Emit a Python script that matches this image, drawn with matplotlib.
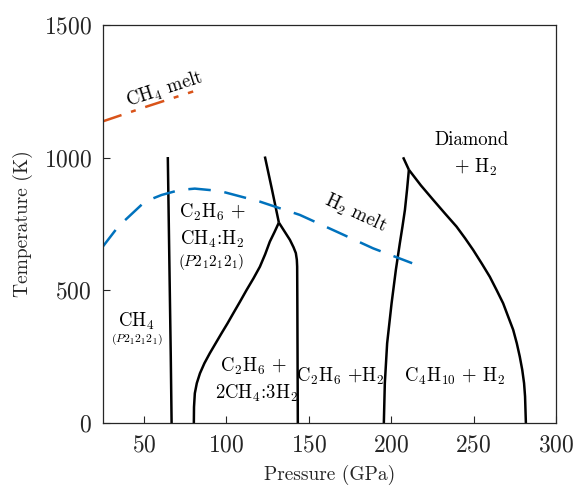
import matplotlib
matplotlib.use("Agg")
import matplotlib.pyplot as plt

plt.rcParams['font.family'] = 'cmr10'
plt.rcParams['mathtext.fontset'] = 'cm'
plt.rcParams['axes.formatter.use_mathtext'] = True

# Phase boundaries (Pressure GPa, Temperature K)
b1_P = [64.4, 65.0, 65.6, 66.2, 66.7]
b1_T = [1002, 750, 500, 250, 0]

b2_top_P = [123.3, 127.6, 131.8]
b2_top_T = [1004, 880, 755]

b2_left_P = [131.8, 129.2, 126.3, 123.5, 120.3, 116.4, 112.2, 108.2, 104.1, 100.6, 97.0,
             93.4, 89.9, 86.6, 83.9, 82.0, 80.8, 80.3, 80.2]
b2_left_T = [755, 720, 683, 636, 589, 545, 501, 457, 413, 375, 338,
             300, 263, 225, 187, 150, 112, 60, 0]

b2_right_P = [131.8, 135.2, 138.5, 140.7, 142.1, 142.7, 142.9, 143.0, 143.3]
b2_right_T = [755, 722, 690, 662, 640, 615, 589, 463, 0]

b3_top_P = [207.2, 210.7]
b3_top_T = [1001, 954]

b3_left_P = [210.7, 209.6, 208.3, 206.8, 205.2, 202.8, 200.2, 197.5, 196.1, 195.5]
b3_left_T = [954, 880, 803, 740, 677, 577, 451, 300, 150, 0]

b3_right_P = [210.7, 218.0, 225.4, 232.5, 239.6, 244.8, 249.7, 255.0, 259.8, 264.0,
              267.9, 271.0, 274.0, 276.2, 278.0, 279.5, 280.6, 281.2, 281.7]
b3_right_T = [954, 895, 841, 790, 740, 696, 652, 600, 551, 500,
              451, 400, 351, 300, 250, 200, 150, 100, 0]

# Melting curves
h2melt_P = [24.4, 34.3, 50.5, 60.6, 71.7, 80.8, 96.0, 120.3, 144.5, 166.8, 189.0, 212.7]
h2melt_T = [660, 740, 834, 859, 878, 883, 874, 834, 784, 721, 658, 602]

ch4melt_P = [24.8, 52.0, 79.8]
ch4melt_T = [1136, 1193, 1249]

fig = plt.figure(figsize=(5.78, 4.87), dpi=100)
ax = fig.add_axes([0.178, 0.1314, 0.784, 0.8176])

blk = dict(color='black', lw=1.8, solid_joinstyle='round', solid_capstyle='butt')
for P, T in [(b1_P, b1_T), (b2_top_P, b2_top_T), (b2_left_P, b2_left_T),
             (b2_right_P, b2_right_T), (b3_top_P, b3_top_T),
             (b3_left_P, b3_left_T), (b3_right_P, b3_right_T)]:
    ax.plot(P, T, **blk)

ax.plot(h2melt_P, h2melt_T, color='#0072BD', lw=1.8, dashes=(9, 5.5))
ax.plot(ch4melt_P, ch4melt_T, color='#D95319', lw=1.8, dashes=(8, 4, 2, 4))

fs = 13.5
ax.text(62.6, 1256, r'CH$_4$ melt', rotation=18, ha='center', va='center', fontsize=fs)
ax.text(178.5, 790, r'H$_2$ melt', rotation=-25, ha='center', va='center', fontsize=fs)
ax.text(249, 1067, 'Diamond', ha='center', va='center', fontsize=fs)
ax.text(251.0, 962, r'+ H$_2$', ha='center', va='center', fontsize=fs)
ax.text(91.1, 792, r'C$_2$H$_6$ +', ha='center', va='center', fontsize=fs)
ax.text(91.1, 690, r'CH$_4$:H$_2$', ha='center', va='center', fontsize=fs)
ax.text(90.5, 607, r'$(P2_12_12_1)$', ha='center', va='center', fontsize=11)
ax.text(45.4, 383, r'CH$_4$', ha='center', va='center', fontsize=fs)
ax.text(45.4, 316, r'$(P2_12_12_1)$', ha='center', va='center', fontsize=8.5)
ax.text(116.2, 212, r'C$_2$H$_6$ +', ha='center', va='center', fontsize=fs)
ax.text(118.3, 112, r'2CH$_4$:3H$_2$', ha='center', va='center', fontsize=fs)
ax.text(169.0, 177, r'C$_2$H$_6$ +H$_2$', ha='center', va='center', fontsize=fs)
ax.text(238.6, 177, r'C$_4$H$_{10}$ + H$_2$', ha='center', va='center', fontsize=fs)

ax.set_xlim(25, 300)
ax.set_ylim(0, 1500)
ax.set_xticks([50, 100, 150, 200, 250, 300])
ax.set_yticks([0, 500, 1000, 1500])
ax.tick_params(direction='in', length=5, width=0.8, labelsize=17, colors='#262626',
               labelcolor='#262626', top=False, right=False)
ax.tick_params(axis='y', pad=8)
ax.tick_params(axis='x', pad=8)
for s in ax.spines.values():
    s.set_color('#262626')
    s.set_linewidth(0.9)

ax.set_xlabel('Pressure (GPa)', fontsize=14, color='#262626', labelpad=6.5)
ax.set_ylabel('Temperature (K)', fontsize=14, color='#262626', labelpad=7.5)

fig.savefig('out.png', dpi=100)
